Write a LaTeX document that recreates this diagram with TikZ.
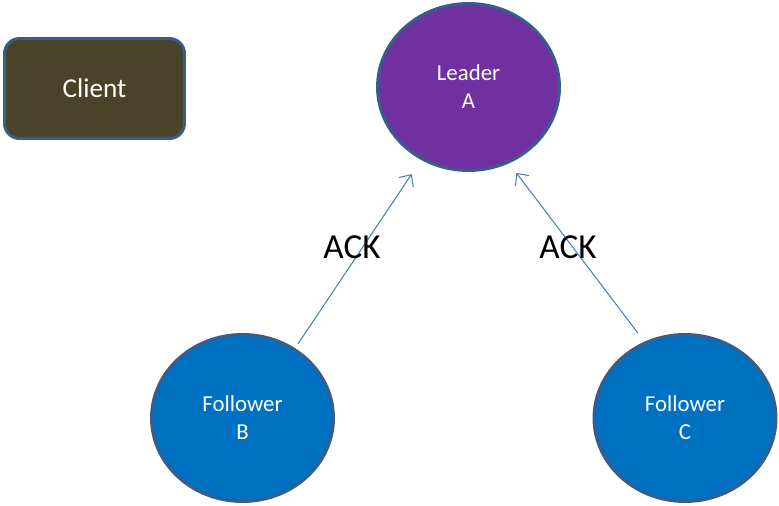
\documentclass[tikz,border=0pt]{standalone}
\usepackage{fontspec}
\setmainfont{Carlito}
\usetikzlibrary{arrows.meta,shapes.geometric}
\definecolor{leaderpurple}{HTML}{7030A0}
\definecolor{followerblue}{HTML}{0070C0}
\definecolor{clientolive}{HTML}{494429}
\definecolor{rimblue}{HTML}{385D8A}
\definecolor{ackline}{HTML}{4A7EBB}

\begin{document}
\begin{tikzpicture}[x=0.02cm,y=-0.02cm,
  server/.style={ellipse,draw=rimblue,line width=1.7pt,text=white,
    font=\fontsize{13}{16}\selectfont,align=center,
    minimum width=3.64cm,minimum height=3.34cm,inner sep=0pt},
  clientbox/.style={rectangle,rounded corners=0.3cm,draw=rimblue,line width=1.7pt,
    fill=clientolive,text=white,font=\fontsize{15.5}{18}\selectfont,
    minimum width=3.6cm,minimum height=2.0cm},
  ack/.style={draw=ackline,line width=0.6pt,-{Straight Barb[length=1.8mm,width=3.4mm]}},
  acklabel/.style={font=\fontsize{20}{24}\selectfont,text=black}]
  \useasboundingbox (0,0) rectangle (779,506);
  % client and servers
  \node[clientbox] (client) at (94.5,88.5) {Client};
  \node[server,fill=leaderpurple] (A) at (468.5,87) {Leader\\A};
  \node[server,fill=followerblue] (B) at (242.5,418) {Follower\\B};
  \node[server,fill=followerblue] (C) at (685,418) {Follower\\C};
  % acknowledgements to the leader
  \draw[ack,shorten <=0.1cm,shorten >=0.34cm] (B.53) -- (A.-123);
  \draw[ack,shorten <=0.22cm,shorten >=0.24cm] (C.118) -- (A.-62);
  \node[acklabel] (ackB) at (352,247) {ACK};
  \node[acklabel] (ackC) at (568,247) {ACK};
\end{tikzpicture}
\end{document}
